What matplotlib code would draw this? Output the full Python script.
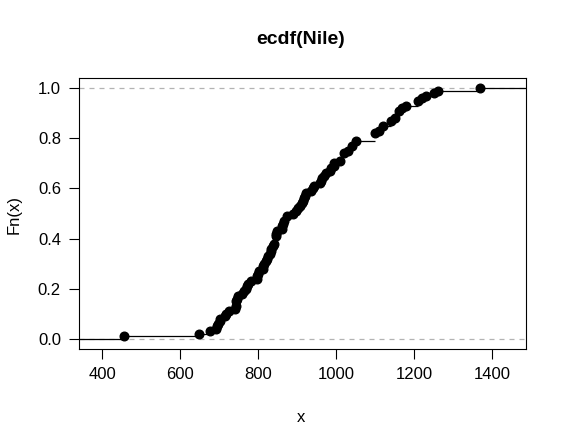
import matplotlib
matplotlib.use("Agg")
import matplotlib.pyplot as plt
import numpy as np

plt.rcParams["font.family"] = ["Liberation Sans", "DejaVu Sans"]

# Nile annual flow, 1871-1970
nile = [1120, 1160, 963, 1210, 1160, 1160, 813, 1230, 1370, 1140, 995, 935, 1110,
        994, 1020, 960, 1180, 799, 958, 1140, 1100, 1210, 1150, 1250, 1260, 1220,
        1030, 1100, 774, 840, 874, 694, 940, 833, 701, 916, 692, 1020, 1050, 969,
        831, 726, 456, 824, 702, 1120, 1100, 832, 764, 821, 768, 845, 864, 862,
        698, 845, 744, 796, 1040, 759, 781, 865, 845, 944, 984, 897, 822, 1010,
        771, 676, 649, 846, 812, 742, 801, 1040, 860, 874, 848, 890, 744, 749,
        838, 1050, 918, 986, 797, 923, 975, 815, 1020, 906, 901, 1170, 912, 746,
        919, 718, 714, 740]
x_ticks = [400, 600, 800, 1000, 1200, 1400]
y_ticks = [0.0, 0.2, 0.4, 0.6, 0.8, 1.0]

data = np.sort(np.array(nile, dtype=float))
knots, counts = np.unique(data, return_counts=True)
heights = np.cumsum(counts) / len(data)

span = knots[-1] - knots[0]
dr = max(0.08 * span, np.median(np.diff(knots)))
xlim = (knots[0] - dr, knots[-1] + dr)
ext = 0.04 * (xlim[1] - xlim[0])

fig = plt.figure(figsize=(5.66, 4.47), dpi=100)
ax = fig.add_axes([0.1396, 0.2192, 0.7889, 0.6063])

ax.axhline(0, color="#b3b3b3", linestyle=(0, (4, 4)), linewidth=0.9)
ax.axhline(1, color="#b3b3b3", linestyle=(0, (4, 4)), linewidth=0.9)

left = np.concatenate([[xlim[0] - 2 * dr], knots])
right = np.concatenate([knots, [xlim[1] + 2 * dr]])
levels = np.concatenate([[0.0], heights])
ax.hlines(levels, left, right, color="black", linewidth=0.9)
ax.plot(knots, heights, "o", color="black", markersize=6.2)

ax.set_xlim(xlim[0] - ext, xlim[1] + ext)
ax.set_ylim(-0.04, 1.04)
ax.set_xticks(x_ticks)
ax.set_yticks(y_ticks)
ax.set_yticklabels([f"{v:.1f}" for v in y_ticks])
ax.tick_params(direction="out", length=7, width=0.8, labelsize=12, pad=6)
for s in ax.spines.values():
    s.set_linewidth(0.8)

fig.text(0.532, 1 - 40 / 447, "ecdf(Nile)", fontsize=14, fontweight="bold",
         ha="center", va="center")
fig.text(0.532, 1 - 417 / 447, "x", fontsize=12, ha="center", va="center")
fig.text(14 / 566, 0.52, "Fn(x)", fontsize=12, ha="center", va="center",
         rotation=90)

fig.savefig("out.png", dpi=100)
